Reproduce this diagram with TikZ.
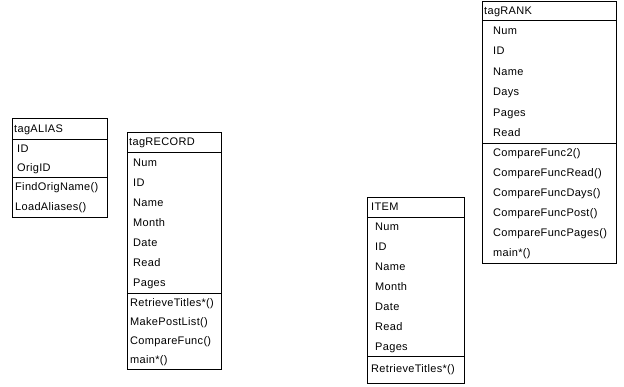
\documentclass[tikz,border=0pt]{standalone}
\usepackage{fontspec}
\setmainfont{Liberation Sans}[LetterSpace=3]
\begin{document}
\begin{tikzpicture}[x=1pt,y=-1pt,
  box/.style={draw=black, line width=0.8pt},
  lbl/.style={anchor=base west, inner sep=0pt, font=\fontsize{11}{13}\selectfont, text=black},
]
\useasboundingbox (0,0) rectangle (624,387);

% ---- tagALIAS ----
\path[box] (12,118) rectangle (107,217);
\draw[box] (12,139) -- (107,139);
\draw[box] (12,177) -- (107,177);
\node[lbl] (alias) at (14,132.5) {tagALIAS};
\foreach \t [count=\i] in {ID,OrigID}
  \node[lbl] (alias-a\i) at (17,{139+(\i-0.5)*19+4}) {\t};
\foreach \t [count=\i] in {FindOrigName(),LoadAliases()}
  \node[lbl] (alias-m\i) at (15,{177+(\i-0.5)*20+4}) {\t};

% ---- tagRECORD ----
\path[box] (127,132) rectangle (221,369);
\draw[box] (127,152) -- (221,152);
\draw[box] (127,293) -- (221,293);
\node[lbl] (record) at (129,146) {tagRECORD};
\foreach \t [count=\i] in {Num,ID,Name,Month,Date,Read,Pages}
  \node[lbl] (record-a\i) at (133,{152+(\i-0.5)*20.14+4}) {\t};
\foreach \t [count=\i] in {RetrieveTitles*(),MakePostList(),CompareFunc(),main*()}
  \node[lbl] (record-m\i) at (130,{293+(\i-0.5)*19+4}) {\t};

% ---- ITEM ----
\path[box] (367,197) rectangle (464,383);
\draw[box] (367,217) -- (464,217);
\draw[box] (367,356) -- (464,356);
\node[lbl] (item) at (371,211) {ITEM};
\foreach \t [count=\i] in {Num,ID,Name,Month,Date,Read,Pages}
  \node[lbl] (item-a\i) at (375,{217+(\i-0.5)*19.86+4}) {\t};
\node[lbl] (item-m1) at (371,373) {RetrieveTitles*()};

% ---- tagRANK ----
\path[box] (482,1) rectangle (616,263);
\draw[box] (482,20) -- (616,20);
\draw[box] (482,143) -- (616,143);
\node[lbl] (rank) at (484,14.5) {tagRANK};
\foreach \t [count=\i] in {Num,ID,Name,Days,Pages,Read}
  \node[lbl] (rank-a\i) at (493,{20+(\i-0.5)*20.5+4}) {\t};
\foreach \t [count=\i] in {CompareFunc2(),CompareFuncRead(),CompareFuncDays(),CompareFuncPost(),CompareFuncPages(),main*()}
  \node[lbl] (rank-m\i) at (493,{143+(\i-0.5)*20+4}) {\t};
\end{tikzpicture}
\end{document}
